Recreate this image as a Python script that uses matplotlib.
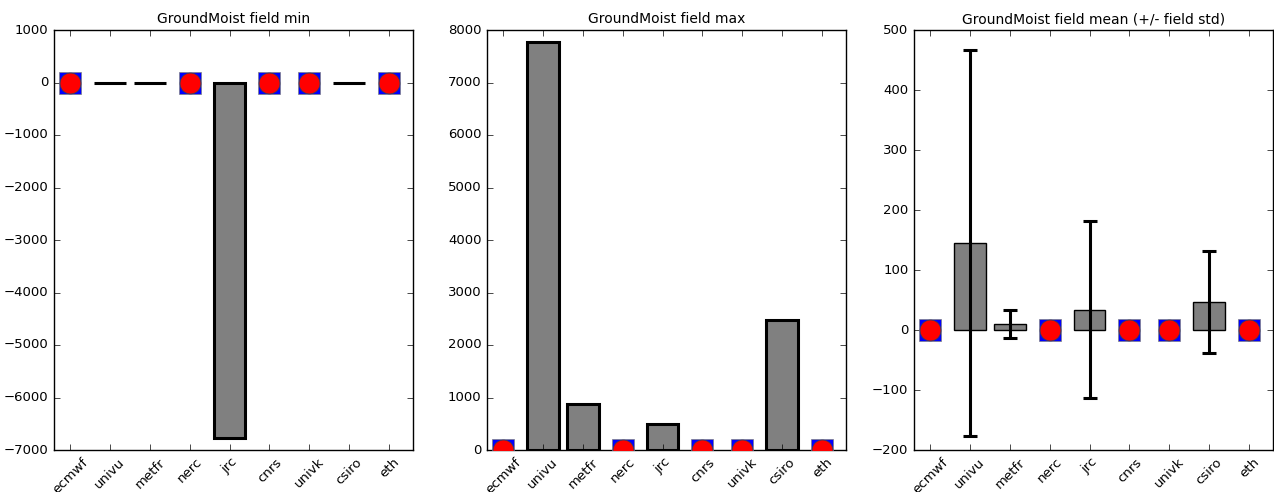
import numpy as np
import matplotlib
matplotlib.use("Agg")
import matplotlib.pyplot as plt

models = ["ecmwf", "univu", "metfr", "nerc", "jrc", "cnrs", "univk", "csiro", "eth"]

# nan = no data for that model (drawn as a marker at zero)
field_min = [np.nan, 0.0, 0.0, np.nan, -6780.0, np.nan, np.nan, 0.0, np.nan]
field_max = [np.nan, 7780.0, 870.0, np.nan, 490.0, np.nan, np.nan, 2470.0, np.nan]
field_mean = [np.nan, 145.0, 10.5, np.nan, 34.0, np.nan, np.nan, 47.0, np.nan]
field_std = [np.nan, 322.0, 23.5, np.nan, 147.0, np.nan, np.nan, 84.5, np.nan]

titles = ["GroundMoist field min", "GroundMoist field max",
          "GroundMoist field mean (+/- field std)"]
ylims = [(-7000, 1000), (0, 8000), (-200, 500)]

plt.style.use("classic")
plt.rcParams["font.family"] = ["DejaVu Sans"]
plt.rcParams["font.size"] = 9.5

fig = plt.figure(figsize=(12.74, 4.92), dpi=100)
fig.patch.set_facecolor("white")
lefts = [54, 487, 914]
axes = [fig.add_axes([l / 1274, 42 / 492, 359 / 1274, 420 / 492]) for l in lefts]

x = np.arange(len(models))


def draw(ax, vals, title, ylim, err=None, edge_lw=2.2):
    vals = np.array(vals, dtype=float)
    ok = ~np.isnan(vals)
    ax.bar(x[ok], vals[ok], width=0.8, color="gray", edgecolor="black",
           linewidth=edge_lw, align="center", zorder=2)
    if err is not None:
        err = np.array(err, dtype=float)
        ax.errorbar(x[ok], vals[ok], yerr=err[ok], fmt="none", ecolor="black",
                    elinewidth=2.2, capsize=5, capthick=2.2, zorder=3)
    miss = x[~ok]
    ax.plot(miss, np.zeros(len(miss)), "s", color="blue", markeredgecolor="gray",
            markersize=16, zorder=4)
    ax.plot(miss, np.zeros(len(miss)), "o", color="red", markeredgecolor="#444444",
            markersize=15, markeredgewidth=0.5, zorder=5)
    ax.set_xlim(-0.4, 8.6)
    ax.set_ylim(*ylim)
    ax.set_xticks(x)
    ax.set_xticklabels(models, rotation=45)
    ax.set_title(title, fontsize=10)
    ax.tick_params(labelsize=9.5)


draw(axes[0], field_min, titles[0], ylims[0])
draw(axes[1], field_max, titles[1], ylims[1])
draw(axes[2], field_mean, titles[2], ylims[2], err=field_std, edge_lw=1.0)

fig.savefig("out.png", dpi=100, facecolor="white")
